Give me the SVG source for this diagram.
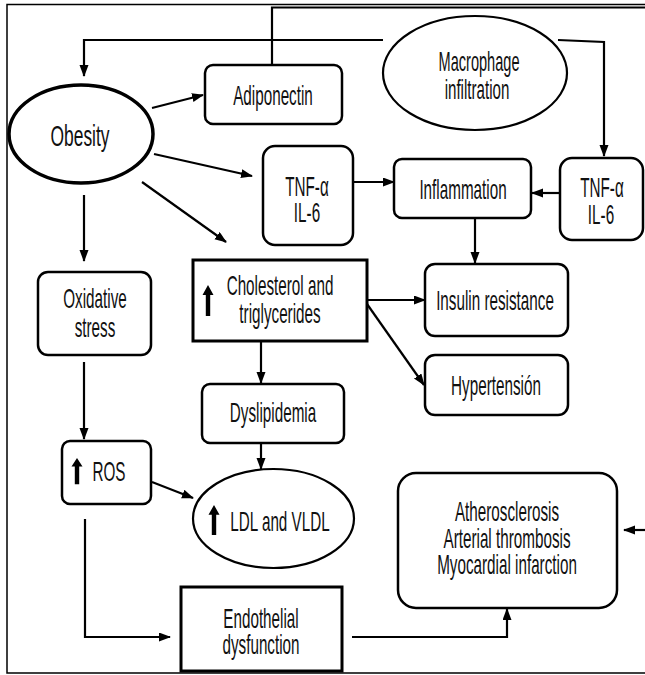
<svg xmlns="http://www.w3.org/2000/svg" width="645" height="675" viewBox="0 0 645 675">
<defs>
<style>
.bx{fill:#fff;stroke:#000;stroke-width:2.5}
.sq{fill:#fff;stroke:#000;stroke-width:3}
.el{fill:#fff;stroke:#000;stroke-width:2.2}
.ln{fill:none;stroke:#000;stroke-width:2.2}
.t{font-family:"Liberation Sans",Arial,sans-serif;font-size:27px;fill:#111;text-anchor:middle}
.up{fill:#000}
</style>
<marker id="ah" markerUnits="userSpaceOnUse" markerWidth="13" markerHeight="10" refX="11" refY="4.5" orient="auto">
<path d="M0,0 L12,4.5 L0,9 Z" fill="#000"/>
</marker>
<path id="uparrow" d="M0,0 L5.5,10 H2.2 V31 H-2.2 V10 H-5.5 Z"/>
</defs>
<rect width="645" height="675" fill="#fff"/>
<path d="M645,4.5 H7 V673 H645" fill="none" stroke="#000" stroke-width="1.5"/>

<g id="connectors">
<path class="ln" d="M272,65 V7.5 H645" stroke-width="3"/>
<path class="ln" d="M645,530 H624" marker-end="url(#ah)"/>
<path class="ln" d="M383,40 H84 V76" marker-end="url(#ah)"/>
<path class="ln" d="M558,40 L604,42 V156" marker-end="url(#ah)"/>
<path class="ln" d="M152,108 L203,95" marker-end="url(#ah)"/>
<path class="ln" d="M154,154 L252,176" marker-end="url(#ah)"/>
<path class="ln" d="M142,182 L226,242" marker-end="url(#ah)"/>
<path class="ln" d="M84,195 V261" marker-end="url(#ah)"/>
<path class="ln" d="M353,182 H394" marker-end="url(#ah)"/>
<path class="ln" d="M560,193 H532" marker-end="url(#ah)"/>
<path class="ln" d="M475,218 V263" marker-end="url(#ah)"/>
<path class="ln" d="M367,300 H425" marker-end="url(#ah)"/>
<path class="ln" d="M367,304 L424,385" marker-end="url(#ah)"/>
<path class="ln" d="M261,341 V383" marker-end="url(#ah)"/>
<path class="ln" d="M261,443 V469" marker-end="url(#ah)"/>
<path class="ln" d="M84,362 V439" marker-end="url(#ah)"/>
<path class="ln" d="M152,482 L193,498" marker-end="url(#ah)"/>
<path class="ln" d="M85,519 V637 H170" marker-end="url(#ah)"/>
<path class="ln" d="M352,637 H507 V609" marker-end="url(#ah)"/>
</g>

<g id="obesity">
<ellipse cx="81" cy="134" rx="72" ry="49" fill="#fff" stroke="#000" stroke-width="3.5"/>
<text class="t" style="font-size:30px" transform="translate(80,146) scale(0.58,1)">Obesity</text>
</g>
<g id="adiponectin">
<rect class="bx" x="205" y="65" width="137" height="59" rx="8"/>
<text class="t" transform="translate(273,105) scale(0.565,1)">Adiponectin</text>
</g>
<g id="macrophage">
<ellipse class="el" cx="475" cy="73" rx="92" ry="57"/>
<text class="t" transform="translate(479,71) scale(0.54,1)">Macrophage</text>
<text class="t" transform="translate(477,99) scale(0.56,1)">infiltration</text>
</g>
<g id="tnf-left">
<rect class="bx" x="263" y="146" width="90" height="99" rx="12"/>
<text class="t" transform="translate(307,196) scale(0.565,1)">TNF-α</text>
<text class="t" transform="translate(307,222) scale(0.565,1)">IL-6</text>
</g>
<g id="inflammation">
<rect class="bx" x="394" y="159" width="137" height="59" rx="8"/>
<text class="t" transform="translate(463,199) scale(0.565,1)">Inflammation</text>
</g>
<g id="tnf-right">
<rect class="bx" x="560" y="158" width="83" height="82" rx="12"/>
<text class="t" transform="translate(602,197) scale(0.565,1)">TNF-α</text>
<text class="t" transform="translate(601,224) scale(0.565,1)">IL-6</text>
</g>
<g id="oxidative">
<rect class="bx" x="38" y="272" width="113" height="83" rx="10"/>
<text class="t" transform="translate(95,308) scale(0.565,1)">Oxidative</text>
<text class="t" transform="translate(95,337) scale(0.565,1)">stress</text>
</g>
<g id="cholesterol">
<rect class="sq" x="193" y="260" width="174" height="81"/>
<use href="#uparrow" class="up" x="208" y="285"/>
<text class="t" transform="translate(280,295) scale(0.565,1)">Cholesterol and</text>
<text class="t" transform="translate(280,323) scale(0.565,1)">triglycerides</text>
</g>
<g id="insulin">
<rect class="bx" x="425" y="264" width="143" height="72" rx="10"/>
<text class="t" transform="translate(495,310) scale(0.565,1)">Insulin resistance</text>
</g>
<g id="hypertension">
<rect class="bx" x="425" y="355" width="143" height="60" rx="10"/>
<text class="t" transform="translate(496,395) scale(0.565,1)">Hypertensión</text>
</g>
<g id="dyslipidemia">
<rect class="bx" x="202" y="384" width="142" height="59" rx="8"/>
<text class="t" transform="translate(273,422) scale(0.565,1)">Dyslipidemia</text>
</g>
<g id="ros">
<rect class="bx" x="62" y="441" width="89" height="63" rx="8"/>
<use href="#uparrow" class="up" transform="translate(77,458) scale(1,0.85)"/>
<text class="t" transform="translate(109,481) scale(0.565,1)">ROS</text>
</g>
<g id="ldl">
<ellipse class="el" cx="273.5" cy="518.5" rx="80.5" ry="49.5"/>
<use href="#uparrow" class="up" transform="translate(214,505) scale(1,0.97)"/>
<text class="t" transform="translate(280,531) scale(0.565,1)">LDL and VLDL</text>
</g>
<g id="atherosclerosis">
<rect class="bx" x="398" y="473" width="219" height="135" rx="18"/>
<text class="t" transform="translate(507,521) scale(0.565,1)">Atherosclerosis</text>
<text class="t" transform="translate(507,548) scale(0.565,1)">Arterial thrombosis</text>
<text class="t" transform="translate(507,574) scale(0.565,1)">Myocardial infarction</text>
</g>
<g id="endothelial">
<rect class="sq" x="181" y="587" width="161" height="84"/>
<text class="t" transform="translate(261,628) scale(0.565,1)">Endothelial</text>
<text class="t" transform="translate(261,654) scale(0.565,1)">dysfunction</text>
</g>
</svg>
